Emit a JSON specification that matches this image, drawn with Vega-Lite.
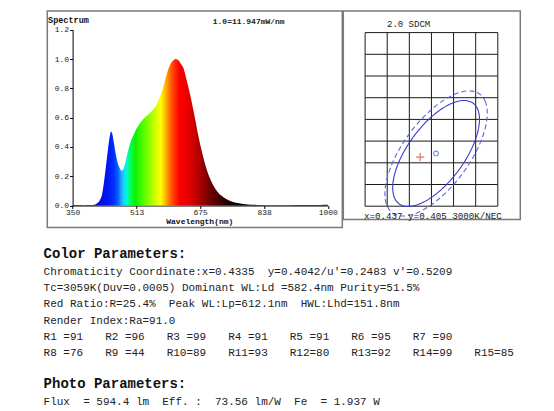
{
  "$schema": "https://vega.github.io/schema/vega-lite/v6.json",
  "background": "white",
  "padding": {"left": 43.3, "top": 10, "right": 0, "bottom": 0},
  "config": {
    "view": {"stroke": "#7a7a7a", "strokeWidth": 1.5},
    "font": "Liberation Mono",
    "axis": {"labelFont": "Liberation Mono", "titleFont": "Liberation Mono"},
    "title": {"font": "Liberation Mono"}
  },
  "datasets": {
    "spectrum": [
      {"nm": 350, "value": 0.004}, {"nm": 360, "value": 0.003}, {"nm": 380, "value": 0.002},
      {"nm": 400, "value": 0.003}, {"nm": 405, "value": 0.005}, {"nm": 410, "value": 0.01},
      {"nm": 415, "value": 0.02}, {"nm": 420, "value": 0.04}, {"nm": 425, "value": 0.075},
      {"nm": 430, "value": 0.16}, {"nm": 435, "value": 0.27}, {"nm": 440, "value": 0.38},
      {"nm": 444, "value": 0.46}, {"nm": 448, "value": 0.505}, {"nm": 451, "value": 0.49},
      {"nm": 455, "value": 0.43}, {"nm": 460, "value": 0.35}, {"nm": 465, "value": 0.29},
      {"nm": 470, "value": 0.255}, {"nm": 475, "value": 0.238}, {"nm": 479, "value": 0.245},
      {"nm": 485, "value": 0.3}, {"nm": 490, "value": 0.36}, {"nm": 495, "value": 0.41},
      {"nm": 500, "value": 0.45}, {"nm": 505, "value": 0.48}, {"nm": 510, "value": 0.51},
      {"nm": 520, "value": 0.555}, {"nm": 530, "value": 0.59}, {"nm": 540, "value": 0.615},
      {"nm": 550, "value": 0.64}, {"nm": 560, "value": 0.67}, {"nm": 570, "value": 0.725},
      {"nm": 580, "value": 0.8}, {"nm": 590, "value": 0.9}, {"nm": 600, "value": 0.97},
      {"nm": 606, "value": 0.99}, {"nm": 612, "value": 1.0}, {"nm": 618, "value": 0.995},
      {"nm": 625, "value": 0.97}, {"nm": 632, "value": 0.94}, {"nm": 640, "value": 0.86},
      {"nm": 650, "value": 0.75}, {"nm": 660, "value": 0.62}, {"nm": 670, "value": 0.48},
      {"nm": 680, "value": 0.36}, {"nm": 690, "value": 0.26}, {"nm": 700, "value": 0.185},
      {"nm": 710, "value": 0.13}, {"nm": 720, "value": 0.09}, {"nm": 735, "value": 0.055},
      {"nm": 750, "value": 0.033}, {"nm": 770, "value": 0.017}, {"nm": 790, "value": 0.009},
      {"nm": 820, "value": 0.004}, {"nm": 860, "value": 0.002}, {"nm": 900, "value": 0.002},
      {"nm": 950, "value": 0.003}, {"nm": 980, "value": 0.004}, {"nm": 1000, "value": 0.005}
    ],
    "ellipses": [
      {"ring": "inner", "i": 0, "u": 5.172, "v": 4.006}, {"ring": "inner", "i": 1, "u": 5.105, "v": 4.435},
      {"ring": "inner", "i": 2, "u": 4.909, "v": 4.728}, {"ring": "inner", "i": 3, "u": 4.597, "v": 4.863},
      {"ring": "inner", "i": 4, "u": 4.191, "v": 4.834}, {"ring": "inner", "i": 5, "u": 3.718, "v": 4.64},
      {"ring": "inner", "i": 6, "u": 3.21, "v": 4.296}, {"ring": "inner", "i": 7, "u": 2.702, "v": 3.824},
      {"ring": "inner", "i": 8, "u": 2.229, "v": 3.258}, {"ring": "inner", "i": 9, "u": 1.823, "v": 2.635},
      {"ring": "inner", "i": 10, "u": 1.511, "v": 1.998}, {"ring": "inner", "i": 11, "u": 1.315, "v": 1.391},
      {"ring": "inner", "i": 12, "u": 1.248, "v": 0.854}, {"ring": "inner", "i": 13, "u": 1.315, "v": 0.425},
      {"ring": "inner", "i": 14, "u": 1.511, "v": 0.132}, {"ring": "inner", "i": 15, "u": 1.823, "v": -0.003},
      {"ring": "inner", "i": 16, "u": 2.229, "v": 0.026}, {"ring": "inner", "i": 17, "u": 2.702, "v": 0.22},
      {"ring": "inner", "i": 18, "u": 3.21, "v": 0.564}, {"ring": "inner", "i": 19, "u": 3.718, "v": 1.036},
      {"ring": "inner", "i": 20, "u": 4.191, "v": 1.602}, {"ring": "inner", "i": 21, "u": 4.597, "v": 2.225},
      {"ring": "inner", "i": 22, "u": 4.909, "v": 2.862}, {"ring": "inner", "i": 23, "u": 5.105, "v": 3.469},
      {"ring": "outer", "i": 0, "u": 5.525, "v": 4.29}, {"ring": "outer", "i": 1, "u": 5.446, "v": 4.797},
      {"ring": "outer", "i": 2, "u": 5.215, "v": 5.142}, {"ring": "outer", "i": 3, "u": 4.847, "v": 5.302},
      {"ring": "outer", "i": 4, "u": 4.368, "v": 5.267}, {"ring": "outer", "i": 5, "u": 3.809, "v": 5.038},
      {"ring": "outer", "i": 6, "u": 3.21, "v": 4.632}, {"ring": "outer", "i": 7, "u": 2.611, "v": 4.076},
      {"ring": "outer", "i": 8, "u": 2.052, "v": 3.407}, {"ring": "outer", "i": 9, "u": 1.573, "v": 2.672},
      {"ring": "outer", "i": 10, "u": 1.205, "v": 1.92}, {"ring": "outer", "i": 11, "u": 0.974, "v": 1.203},
      {"ring": "outer", "i": 12, "u": 0.895, "v": 0.57}, {"ring": "outer", "i": 13, "u": 0.974, "v": 0.063},
      {"ring": "outer", "i": 14, "u": 1.205, "v": -0.282}, {"ring": "outer", "i": 15, "u": 1.573, "v": -0.442},
      {"ring": "outer", "i": 16, "u": 2.052, "v": -0.407}, {"ring": "outer", "i": 17, "u": 2.611, "v": -0.178},
      {"ring": "outer", "i": 18, "u": 3.21, "v": 0.228}, {"ring": "outer", "i": 19, "u": 3.809, "v": 0.784},
      {"ring": "outer", "i": 20, "u": 4.368, "v": 1.453}, {"ring": "outer", "i": 21, "u": 4.847, "v": 2.188},
      {"ring": "outer", "i": 22, "u": 5.215, "v": 2.94}, {"ring": "outer", "i": 23, "u": 5.446, "v": 3.657}
    ],
    "gridColumns": [{"u": 0}, {"u": 1}, {"u": 2}, {"u": 3}, {"u": 4}, {"u": 5}, {"u": 6}],
    "gridRows": [{"v": 0}, {"v": 1}, {"v": 2}, {"v": 3}, {"v": 4}, {"v": 5}, {"v": 6}, {"v": 7}, {"v": 8}],
    "colorParams": [
      {"line": 0, "col": 0, "text": "Chromaticity Coordinate:x=0.4335 \u00a0y=0.4042/u'=0.2483 v'=0.5209"},
      {"line": 1, "col": 0, "text": "Tc=3059K(Duv=0.0005) Dominant WL:Ld =582.4nm Purity=51.5%"},
      {"line": 2, "col": 0, "text": "Red Ratio:R=25.4% \u00a0Peak WL:Lp=612.1nm \u00a0HWL:Lhd=151.8nm"},
      {"line": 3, "col": 0, "text": "Render Index:Ra=91.0"},
      {"line": 4, "col": 0, "text": "R1 =91"}, {"line": 4, "col": 1, "text": "R2 =96"},
      {"line": 4, "col": 2, "text": "R3 =99"}, {"line": 4, "col": 3, "text": "R4 =91"},
      {"line": 4, "col": 4, "text": "R5 =91"}, {"line": 4, "col": 5, "text": "R6 =95"},
      {"line": 4, "col": 6, "text": "R7 =90"},
      {"line": 5, "col": 0, "text": "R8 =76"}, {"line": 5, "col": 1, "text": "R9 =44"},
      {"line": 5, "col": 2, "text": "R10=89"}, {"line": 5, "col": 3, "text": "R11=93"},
      {"line": 5, "col": 4, "text": "R12=80"}, {"line": 5, "col": 5, "text": "R13=92"},
      {"line": 5, "col": 6, "text": "R14=99"}, {"line": 5, "col": 7, "text": "R15=85"}
    ],
    "photoParams": [
      {"line": 0, "col": 0, "text": "Flux \u00a0= 594.4 lm \u00a0Eff. : \u00a073.56 lm/W \u00a0Fe \u00a0= 1.937 W"}
    ]
  },
  "spacing": 17,
  "vconcat": [
    {
      "spacing": -2,
      "hconcat": [
        {
          "width": 295,
          "height": 216.5,
          "layer": [
            {
              "data": {"name": "spectrum"},
              "mark": {
                "type": "area",
                "interpolate": "monotone",
                "color": {
                  "gradient": "linear", "x1": 0, "y1": 0, "x2": 1, "y2": 0,
                  "stops": [
                    {"offset": 0, "color": "#10006a"},
                    {"offset": 0.0769, "color": "#1400a0"},
                    {"offset": 0.1077, "color": "#0010e0"},
                    {"offset": 0.1385, "color": "#0018f0"},
                    {"offset": 0.1615, "color": "#0030ff"},
                    {"offset": 0.1769, "color": "#0060ff"},
                    {"offset": 0.1923, "color": "#30a8ff"},
                    {"offset": 0.2046, "color": "#00e8ff"},
                    {"offset": 0.2154, "color": "#00ffb0"},
                    {"offset": 0.2277, "color": "#00ff50"},
                    {"offset": 0.2462, "color": "#10f000"},
                    {"offset": 0.2769, "color": "#50ff00"},
                    {"offset": 0.3077, "color": "#a0ff00"},
                    {"offset": 0.3308, "color": "#e0ff00"},
                    {"offset": 0.3462, "color": "#ffff00"},
                    {"offset": 0.3615, "color": "#ffc000"},
                    {"offset": 0.38, "color": "#ff7000"},
                    {"offset": 0.4, "color": "#ff3000"},
                    {"offset": 0.4185, "color": "#ff0000"},
                    {"offset": 0.4615, "color": "#e00000"},
                    {"offset": 0.5, "color": "#a80000"},
                    {"offset": 0.5385, "color": "#700000"},
                    {"offset": 0.5769, "color": "#400000"},
                    {"offset": 0.6154, "color": "#1a0000"},
                    {"offset": 0.6615, "color": "#000000"},
                    {"offset": 1, "color": "#000000"}
                  ]
                }
              },
              "encoding": {
                "x": {
                  "field": "nm", "type": "quantitative",
                  "scale": {"domain": [350, 1000], "range": [25.3, 280.5], "nice": false, "zero": false},
                  "axis": {
                    "values": [350, 513, 675, 838, 1000], "tickCount": 50, "format": "d", "offset": -22, "grid": false,
                    "title": "Wavelength(nm)", "titleFontSize": 8, "titleFontWeight": "bold", "titleColor": "#111",
                    "titleX": 152, "titleY": 16, "titleBaseline": "middle", "titleAlign": "center",
                    "domainColor": "#000", "domainWidth": 1, "tickColor": "#000", "tickSize": 3,
                    "labelFontSize": 8, "labelColor": "#222", "labelPadding": 0, "labelFlush": false, "labelOverlap": false
                  }
                },
                "y": {
                  "field": "value", "type": "quantitative",
                  "scale": {"domain": [0, 1.2], "range": [194.5, 18.7], "nice": false, "zero": false},
                  "axis": {
                    "values": [0, 0.2, 0.4, 0.6, 0.8, 1.0, 1.2], "tickCount": 50, "format": ".1f", "offset": -25.3, "grid": false,
                    "title": "Spectrum", "titleAngle": 0, "titleX": -25, "titleY": 8.5, "titleAlign": "left",
                    "titleBaseline": "middle", "titleFontSize": 8.5, "titleFontWeight": "bold", "titleColor": "#111",
                    "domainColor": "#000", "domainWidth": 1, "tickColor": "#000", "tickSize": 3,
                    "labelFontSize": 8, "labelColor": "#222", "labelPadding": 1, "labelFlush": false, "labelOverlap": false
                  }
                }
              }
            },
            {
              "data": {"values": [{"label": "1.0=11.947mW/nm"}]},
              "mark": {"type": "text", "fontSize": 8, "fontWeight": "bold", "align": "center", "baseline": "middle", "color": "#222"},
              "encoding": {
                "x": {"datum": 798.6, "type": "quantitative"},
                "y": {"datum": 1.251, "type": "quantitative"},
                "text": {"field": "label"}
              }
            }
          ]
        },
        {
          "width": 177,
          "height": 208.5,
          "layer": [
            {
              "data": {"name": "gridColumns"},
              "mark": {"type": "rule", "color": "#1a1a1a", "strokeWidth": 1},
              "encoding": {
                "x": {
                  "field": "u", "type": "quantitative",
                  "scale": {"domain": [0, 6], "range": [21.8, 154.5], "nice": false, "zero": false},
                  "axis": null
                },
                "y": {
                  "datum": 0, "type": "quantitative",
                  "scale": {"domain": [0, 8], "range": [195.2, 21.6], "nice": false, "zero": false},
                  "axis": null
                },
                "y2": {"datum": 8}
              }
            },
            {
              "data": {"name": "gridRows"},
              "mark": {"type": "rule", "color": "#1a1a1a", "strokeWidth": 1},
              "encoding": {
                "x": {"datum": 0, "type": "quantitative"},
                "x2": {"datum": 6},
                "y": {"field": "v", "type": "quantitative"}
              }
            },
            {
              "data": {"name": "ellipses"},
              "mark": {"type": "line", "interpolate": "cardinal-closed", "strokeWidth": 1.1},
              "encoding": {
                "x": {"field": "u", "type": "quantitative"},
                "y": {"field": "v", "type": "quantitative"},
                "order": {"field": "i", "type": "quantitative"},
                "color": {"field": "ring", "type": "nominal", "scale": {"domain": ["inner", "outer"], "range": ["#3a3acb", "#6464d8"]}, "legend": null},
                "strokeDash": {"field": "ring", "type": "nominal", "scale": {"domain": ["inner", "outer"], "range": [[1, 0], [5, 3]]}, "legend": null}
              }
            },
            {
              "data": {"values": [{"point": "target", "u": 3.21, "v": 2.43}]},
              "mark": {"type": "point", "shape": "circle", "filled": false, "size": 22, "stroke": "#4a62d8", "strokeWidth": 1.1},
              "encoding": {
                "x": {"field": "u", "type": "quantitative"},
                "y": {"field": "v", "type": "quantitative"}
              }
            },
            {
              "data": {"values": [{"point": "measured", "u": 2.49, "v": 2.26}]},
              "mark": {"type": "point", "shape": "M-1,0L1,0M0,-1L0,1", "filled": false, "size": 70, "stroke": "#e03a3a", "strokeWidth": 1.3},
              "encoding": {
                "x": {"field": "u", "type": "quantitative"},
                "y": {"field": "v", "type": "quantitative"}
              }
            },
            {
              "data": {"values": [{"label": "2.0 SDCM"}]},
              "mark": {"type": "text", "fontSize": 9, "align": "center", "baseline": "middle", "color": "#222"},
              "encoding": {
                "x": {"datum": 1.967, "type": "quantitative"},
                "y": {"datum": 8.41, "type": "quantitative"},
                "text": {"field": "label"}
              }
            },
            {
              "data": {"values": [{"label": "x=0.437 y=0.405 3000K/NEC"}]},
              "mark": {"type": "text", "fontSize": 9.2, "align": "left", "baseline": "middle", "color": "#222"},
              "encoding": {
                "x": {"datum": -0.05, "type": "quantitative"},
                "y": {"datum": -0.43, "type": "quantitative"},
                "text": {"field": "label"}
              }
            }
          ]
        }
      ]
    },
    {
      "spacing": 14,
      "vconcat": [
        {
          "title": {"text": "Color Parameters:", "anchor": "start", "fontSize": 14, "fontWeight": "bold", "color": "#111", "offset": -3.7, "baseline": "middle"},
          "width": 480,
          "height": 97.2,
          "view": {"stroke": null},
          "data": {"name": "colorParams"},
          "mark": {"type": "text", "align": "left", "baseline": "middle", "fontSize": 11, "color": "#222"},
          "encoding": {
            "x": {"field": "col", "type": "quantitative", "scale": {"domain": [0, 7], "range": [-3.7, 427], "nice": false, "zero": false}, "axis": null},
            "y": {"field": "line", "type": "quantitative", "scale": {"domain": [0, 5], "range": [8.1, 89.1], "nice": false, "zero": false}, "axis": null},
            "text": {"field": "text"}
          }
        },
        {
          "title": {"text": "Photo Parameters:", "anchor": "start", "fontSize": 14, "fontWeight": "bold", "color": "#111", "offset": -3.7, "baseline": "middle"},
          "width": 480,
          "height": 16.2,
          "view": {"stroke": null},
          "data": {"name": "photoParams"},
          "mark": {"type": "text", "align": "left", "baseline": "middle", "fontSize": 11, "color": "#222"},
          "encoding": {
            "x": {"field": "col", "type": "quantitative", "scale": {"domain": [0, 7], "range": [-3.7, 427], "nice": false, "zero": false}, "axis": null},
            "y": {"field": "line", "type": "quantitative", "scale": {"domain": [0, 1], "range": [8.1, 24.3], "nice": false, "zero": false}, "axis": null},
            "text": {"field": "text"}
          }
        }
      ]
    }
  ]
}
